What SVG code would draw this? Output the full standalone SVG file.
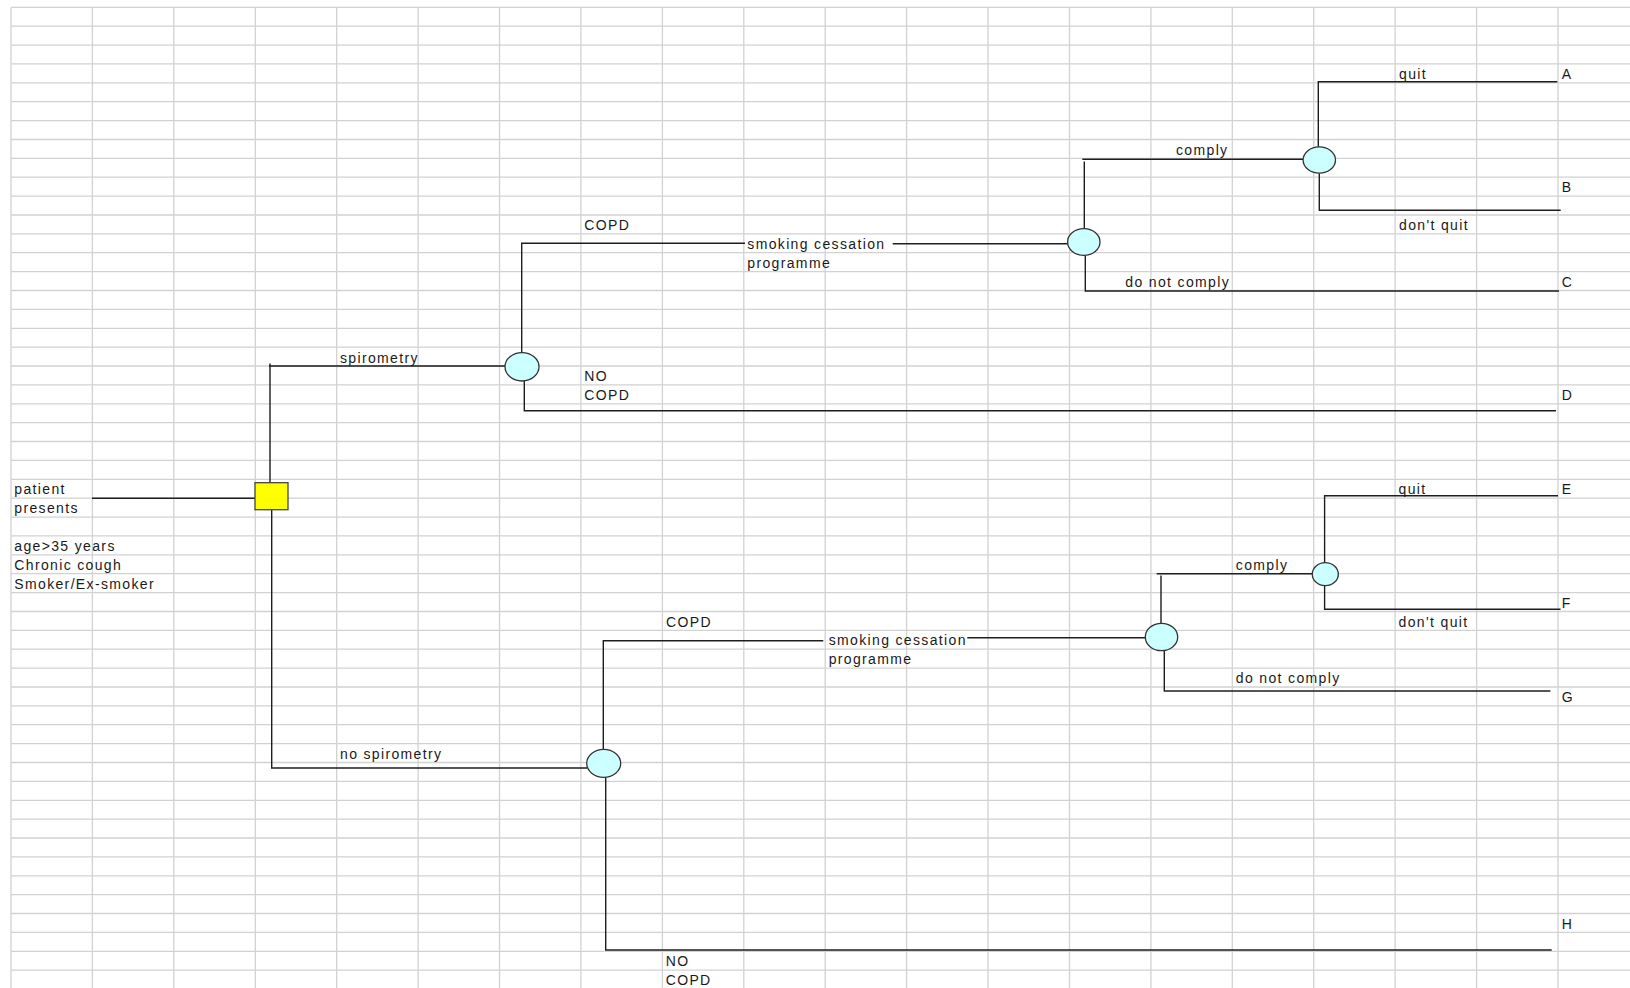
<svg xmlns="http://www.w3.org/2000/svg" width="1630" height="988" viewBox="0 0 1630 988">
<style>
.grid{stroke:#d2d2d2;stroke-width:1.3;fill:none}
.edge{stroke:#1e1e1e;stroke-width:1.4;fill:none}
.chance{fill:#ccffff;stroke:#333;stroke-width:1.3}
.decision{fill:#ffff00;stroke:#444;stroke-width:1.3}
text{font-family:"Liberation Sans",Arial,sans-serif;font-size:14px;letter-spacing:1.35px;fill:#1a1a1a}
</style>
<rect width="1630" height="988" fill="#ffffff"/>
<g id="grid" class="grid">
<path d="M11 7.3V988M92.4 7.3V988M173.8 7.3V988M255.3 7.3V988M336.7 7.3V988M418.1 7.3V988M499.5 7.3V988M580.9 7.3V988M662.4 7.3V988M743.8 7.3V988M825.2 7.3V988M906.6 7.3V988M988 7.3V988M1069.5 7.3V988M1150.9 7.3V988M1232.3 7.3V988M1313.7 7.3V988M1395.1 7.3V988M1476.6 7.3V988M1558 7.3V988"/>
<path d="M11 7.3H1630M11 26.2H1630M11 45.1H1630M11 63.9H1630M11 82.8H1630M11 101.7H1630M11 120.6H1630M11 139.5H1630M11 158.3H1630M11 177.2H1630M11 196.1H1630M11 215H1630M11 233.9H1630M11 252.7H1630M11 271.6H1630M11 290.5H1630M11 309.4H1630M11 328.3H1630M11 347.1H1630M11 366H1630M11 384.9H1630M11 403.8H1630M11 422.7H1630M11 441.5H1630M11 460.4H1630M11 479.3H1630M11 498.2H1630M11 517.1H1630M11 535.9H1630M11 554.8H1630M11 573.7H1630M11 592.6H1630M11 611.5H1630M11 630.3H1630M11 649.2H1630M11 668.1H1630M11 687H1630M11 705.9H1630M11 724.7H1630M11 743.6H1630M11 762.5H1630M11 781.4H1630M11 800.3H1630M11 819.1H1630M11 838H1630M11 856.9H1630M11 875.8H1630M11 894.7H1630M11 913.5H1630M11 932.4H1630M11 951.3H1630M11 970.2H1630"/>
</g>
<g id="connectors" class="edge">
<path d="M92 498.3H255"/>
<path d="M270 482.7V363.5M269 366H505"/>
<path d="M271.7 509.7V768H587"/>
<path d="M521.7 352.7V243.3H745"/>
<path d="M892.7 243.7H1067.7"/>
<path d="M524.3 381V410.7H1556"/>
<path d="M1084.3 228.7V161.5M1082.3 159.3H1303"/>
<path d="M1085.3 255.3V291H1559"/>
<path d="M1318.3 147V81.7H1557.3"/>
<path d="M1319.3 173.2V210.3H1560.7"/>
<path d="M603.3 749.3V640.7H823.3"/>
<path d="M967.3 637.7H1145.3"/>
<path d="M605.7 777.3V950H1551.7"/>
<path d="M1161 623.3V575.5M1156.7 573.7H1312.2"/>
<path d="M1164.3 650.7V691H1550.4"/>
<path d="M1324.6 562.7V495.7H1558"/>
<path d="M1324.6 585.7V609.3H1560.5"/>
</g>
<g id="edge-labels">
<text x="340" y="362.5">spirometry</text>
<text x="340" y="758.7">no spirometry</text>
<text x="584.3" y="230">COPD</text>
<text x="584.3" y="381.2">NO</text>
<text x="584.3" y="400.1">COPD</text>
<text x="747.3" y="248.9">smoking cessation</text>
<text x="747.3" y="267.8">programme</text>
<text x="1176" y="154.5">comply</text>
<text x="1125.3" y="286.7">do not comply</text>
<text x="1399" y="79">quit</text>
<text x="1399" y="230.1">don't quit</text>
<text x="666" y="626.5">COPD</text>
<text x="828.7" y="645.4">smoking cessation</text>
<text x="828.7" y="664.3">programme</text>
<text x="665.7" y="966.4">NO</text>
<text x="665.7" y="985.3">COPD</text>
<text x="1235.8" y="569.9">comply</text>
<text x="1235.8" y="683.2">do not comply</text>
<text x="1398.6" y="494.4">quit</text>
<text x="1398.6" y="626.5">don't quit</text>
</g>
<g id="start">
<text x="14.3" y="494.4">patient</text>
<text x="14.3" y="513.3">presents</text>
<text x="14.3" y="551">age&gt;35 years</text>
<text x="14.3" y="569.9">Chronic cough</text>
<text x="14.3" y="588.8">Smoker/Ex-smoker</text>
</g>
<g id="decision"><rect class="decision" x="255" y="482.7" width="33" height="27"/></g>
<g id="chance-spirometry"><ellipse class="chance" cx="522" cy="366.8" rx="17" ry="14.2"/></g>
<g id="chance-copd-1"><ellipse class="chance" cx="1083.8" cy="242" rx="16.2" ry="13.3"/></g>
<g id="chance-comply-1"><ellipse class="chance" cx="1319.3" cy="160" rx="16.2" ry="13.2"/></g>
<g id="chance-nospirometry"><ellipse class="chance" cx="603.7" cy="763.3" rx="17" ry="14"/></g>
<g id="chance-copd-2"><ellipse class="chance" cx="1161.5" cy="637" rx="16.2" ry="13.7"/></g>
<g id="chance-comply-2"><ellipse class="chance" cx="1325.3" cy="574.2" rx="13" ry="11.5"/></g>
<g id="terminals">
<g id="term-A"><text x="1561.7" y="79">A</text></g>
<g id="term-B"><text x="1561.7" y="192.3">B</text></g>
<g id="term-C"><text x="1561.7" y="286.7">C</text></g>
<g id="term-D"><text x="1561.7" y="400">D</text></g>
<g id="term-E"><text x="1561.7" y="494.4">E</text></g>
<g id="term-F"><text x="1561.7" y="607.7">F</text></g>
<g id="term-G"><text x="1561.7" y="702.1">G</text></g>
<g id="term-H"><text x="1561.7" y="928.6">H</text></g>
</g>
</svg>
